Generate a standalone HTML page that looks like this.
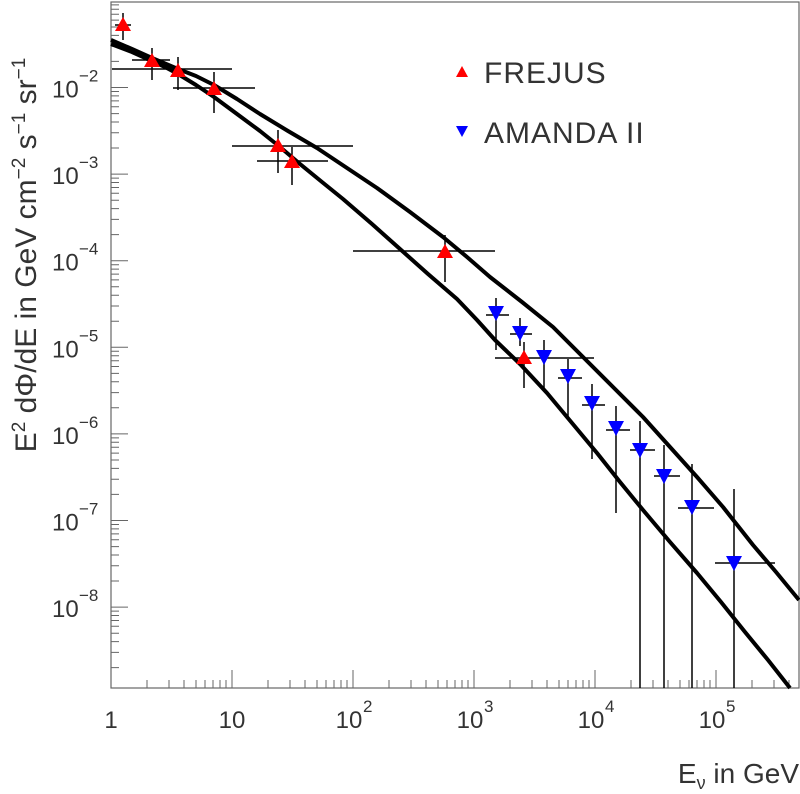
<!DOCTYPE html>
<html><head><meta charset="utf-8"><style>body{margin:0;background:#fff}svg{display:block}</style></head><body>
<svg width="800" height="794" viewBox="0 0 800 794" xmlns="http://www.w3.org/2000/svg" font-family="Liberation Sans, sans-serif">
<rect x="0" y="0" width="800" height="794" fill="#fff"/>
<rect x="111" y="2" width="688" height="686" fill="none" stroke="#666" stroke-width="1.2"/>
<path stroke="#666" stroke-width="1" fill="none" d="
M111,688V670 M232,688V670 M353,688V670 M474,688V670 M595,688V670 M716,688V670
M147,688V680 M169,688V680 M184,688V680 M196,688V680 M205,688V680 M213,688V680 M220,688V680 M226,688V680
M268,688V680 M290,688V680 M305,688V680 M317,688V680 M326,688V680 M334,688V680 M341,688V680 M347,688V680
M389,688V680 M411,688V680 M426,688V680 M438,688V680 M447,688V680 M455,688V680 M462,688V680 M468,688V680
M510,688V680 M532,688V680 M547,688V680 M559,688V680 M568,688V680 M576,688V680 M583,688V680 M589,688V680
M631,688V680 M653,688V680 M668,688V680 M680,688V680 M689,688V680 M697,688V680 M704,688V680 M710,688V680
M752,688V680 M774,688V680 M789,688V680
M111,87.5H128 M111,174.1H128 M111,260.7H128 M111,347.3H128 M111,433.9H128 M111,520.5H128 M111,607.1H128
M111,61.4H119 M111,46.2H119 M111,35.4H119 M111,27H119 M111,20.1H119 M111,14.3H119 M111,9.3H119 M111,4.9H119
M111,148H119 M111,132.8H119 M111,122H119 M111,113.6H119 M111,106.7H119 M111,100.9H119 M111,95.9H119 M111,91.5H119
M111,234.6H119 M111,219.4H119 M111,208.6H119 M111,200.2H119 M111,193.3H119 M111,187.5H119 M111,182.5H119 M111,178.1H119
M111,321.2H119 M111,306H119 M111,295.2H119 M111,286.8H119 M111,279.9H119 M111,274.1H119 M111,269.1H119 M111,264.7H119
M111,407.8H119 M111,392.6H119 M111,381.8H119 M111,373.4H119 M111,366.5H119 M111,360.7H119 M111,355.7H119 M111,351.3H119
M111,494.4H119 M111,479.2H119 M111,468.4H119 M111,460H119 M111,453.1H119 M111,447.3H119 M111,442.3H119 M111,437.9H119
M111,581H119 M111,565.8H119 M111,555H119 M111,546.6H119 M111,539.7H119 M111,533.9H119 M111,528.9H119 M111,524.5H119
M111,667.6H119 M111,652.4H119 M111,641.6H119 M111,633.2H119 M111,626.3H119 M111,620.5H119 M111,615.5H119 M111,611.1H119"/>
<g fill="#333" font-size="24">
<text x="111" y="728" text-anchor="middle">1</text>
<text x="232" y="728" text-anchor="middle">10</text>
<text x="349" y="728" text-anchor="middle">10</text><text x="363" y="712" font-size="17">2</text>
<text x="470" y="728" text-anchor="middle">10</text><text x="484" y="712" font-size="17">3</text>
<text x="591" y="728" text-anchor="middle">10</text><text x="605" y="712" font-size="17">4</text>
<text x="712" y="728" text-anchor="middle">10</text><text x="726" y="712" font-size="17">5</text>
</g>
<g fill="#333" font-size="24">
<text x="52" y="97.5">10</text><text x="79" y="81.5" font-size="17">−2</text>
<text x="52" y="184.1">10</text><text x="79" y="168.1" font-size="17">−3</text>
<text x="52" y="270.7">10</text><text x="79" y="254.7" font-size="17">−4</text>
<text x="52" y="357.3">10</text><text x="79" y="341.3" font-size="17">−5</text>
<text x="52" y="443.9">10</text><text x="79" y="427.9" font-size="17">−6</text>
<text x="52" y="530.5">10</text><text x="79" y="514.5" font-size="17">−7</text>
<text x="52" y="617.1">10</text><text x="79" y="601.1" font-size="17">−8</text>
</g>
<text x="799" y="783" text-anchor="end" font-size="28" fill="#333">E<tspan font-size="18" dy="6">ν</tspan><tspan dy="-6"> in GeV</tspan></text>
<text transform="translate(36,255) rotate(-90)" text-anchor="middle" font-size="30" fill="#333">E<tspan font-size="19" dy="-11">2</tspan><tspan dy="11"> dΦ/dE in GeV cm</tspan><tspan font-size="19" dy="-11">−2</tspan><tspan dy="11"> s</tspan><tspan font-size="19" dy="-11">−1</tspan><tspan dy="11"> sr</tspan><tspan font-size="19" dy="-11">−1</tspan></text>
<g fill="none" stroke="#000" stroke-width="4" stroke-linejoin="round">
<polyline points="111,40 132,49 152,58 178,69 196,76 214,85 237,99 260,114 288,131 317,148 347,168 377,188 410,212 443,237 467,257 490,277 522,302 553,327 583,357 613,387 643,417 670,447 697,477 723,507 738,526 753,545 776,572 799,600"/>
<polyline points="111,44 132,52 152,61 165,67 178,74 196,85 214,97 237,114 260,131 280,147 300,164 322,182 343,199 372,224 400,249 428,274 457,299 477,320 495,340 520,364 547,393 572,423 597,453 620,482 643,510 670,542 697,573 721,602 745,632 768,660 790,688"/>
</g>
<g stroke="#000" stroke-width="1.5">
<line x1="123" y1="13" x2="123" y2="40"/><line x1="115" y1="25" x2="131" y2="25"/>
<line x1="152" y1="48" x2="152" y2="80"/><line x1="132" y1="60" x2="170" y2="60"/>
<line x1="178" y1="57" x2="178" y2="90"/><line x1="112" y1="69" x2="232" y2="69"/>
<line x1="214" y1="72" x2="214" y2="113"/><line x1="173" y1="88" x2="255" y2="88"/>
<line x1="278" y1="130" x2="278" y2="173"/><line x1="232" y1="146" x2="353" y2="146"/>
<line x1="292" y1="147" x2="292" y2="185"/><line x1="257" y1="161" x2="328" y2="161"/>
<line x1="445" y1="235" x2="445" y2="282"/><line x1="353" y1="251" x2="495" y2="251"/>
<line x1="524" y1="342" x2="524" y2="388"/><line x1="495" y1="358" x2="594" y2="358"/>
<line x1="496" y1="298" x2="496" y2="350"/><line x1="486" y1="315" x2="509" y2="315"/>
<line x1="520" y1="318" x2="520" y2="346"/><line x1="510" y1="334" x2="532" y2="334"/>
<line x1="544" y1="340" x2="544" y2="390"/>
<line x1="568" y1="359" x2="568" y2="418"/><line x1="558" y1="378" x2="582" y2="378"/>
<line x1="592" y1="384" x2="592" y2="459"/><line x1="582" y1="405" x2="605" y2="405"/>
<line x1="616" y1="406" x2="616" y2="513"/><line x1="606" y1="430" x2="630" y2="430"/>
<line x1="640" y1="421" x2="640" y2="688"/><line x1="630" y1="450" x2="655" y2="450"/>
<line x1="664" y1="445" x2="664" y2="688"/><line x1="654" y1="476" x2="680" y2="476"/>
<line x1="692" y1="464" x2="692" y2="688"/><line x1="678" y1="508" x2="714" y2="508"/>
<line x1="734" y1="489" x2="734" y2="688"/><line x1="715" y1="563" x2="775" y2="563"/>
</g>
<g fill="#f00">
<polygon points="123,17 115,31 131,31"/><polygon points="152,53 144,67 160,67"/><polygon points="178,63 170,77 186,77"/><polygon points="214,81 206,95 222,95"/>
<polygon points="278,138 270,152 286,152"/><polygon points="292,154 284,168 300,168"/><polygon points="445,244 437,258 453,258"/><polygon points="524,350 516,364 532,364"/>
<polygon points="462,66 456,77 468,77"/>
</g>
<g fill="#00f">
<polygon points="488,306 504,306 496,321"/><polygon points="512,326 528,326 520,341"/><polygon points="536,350 552,350 544,365"/><polygon points="560,369 576,369 568,384"/><polygon points="584,396 600,396 592,411"/>
<polygon points="608,421 624,421 616,436"/><polygon points="632,443 648,443 640,458"/><polygon points="656,469 672,469 664,484"/><polygon points="684,500 700,500 692,515"/><polygon points="726,556 742,556 734,571"/>
<polygon points="456,126 468,126 462,137"/>
</g>
<text x="484" y="83" font-size="30" fill="#333" letter-spacing="1">FREJUS</text>
<text x="484" y="143" font-size="30" fill="#333" letter-spacing="1">AMANDA II</text>
</svg>
</body></html>
